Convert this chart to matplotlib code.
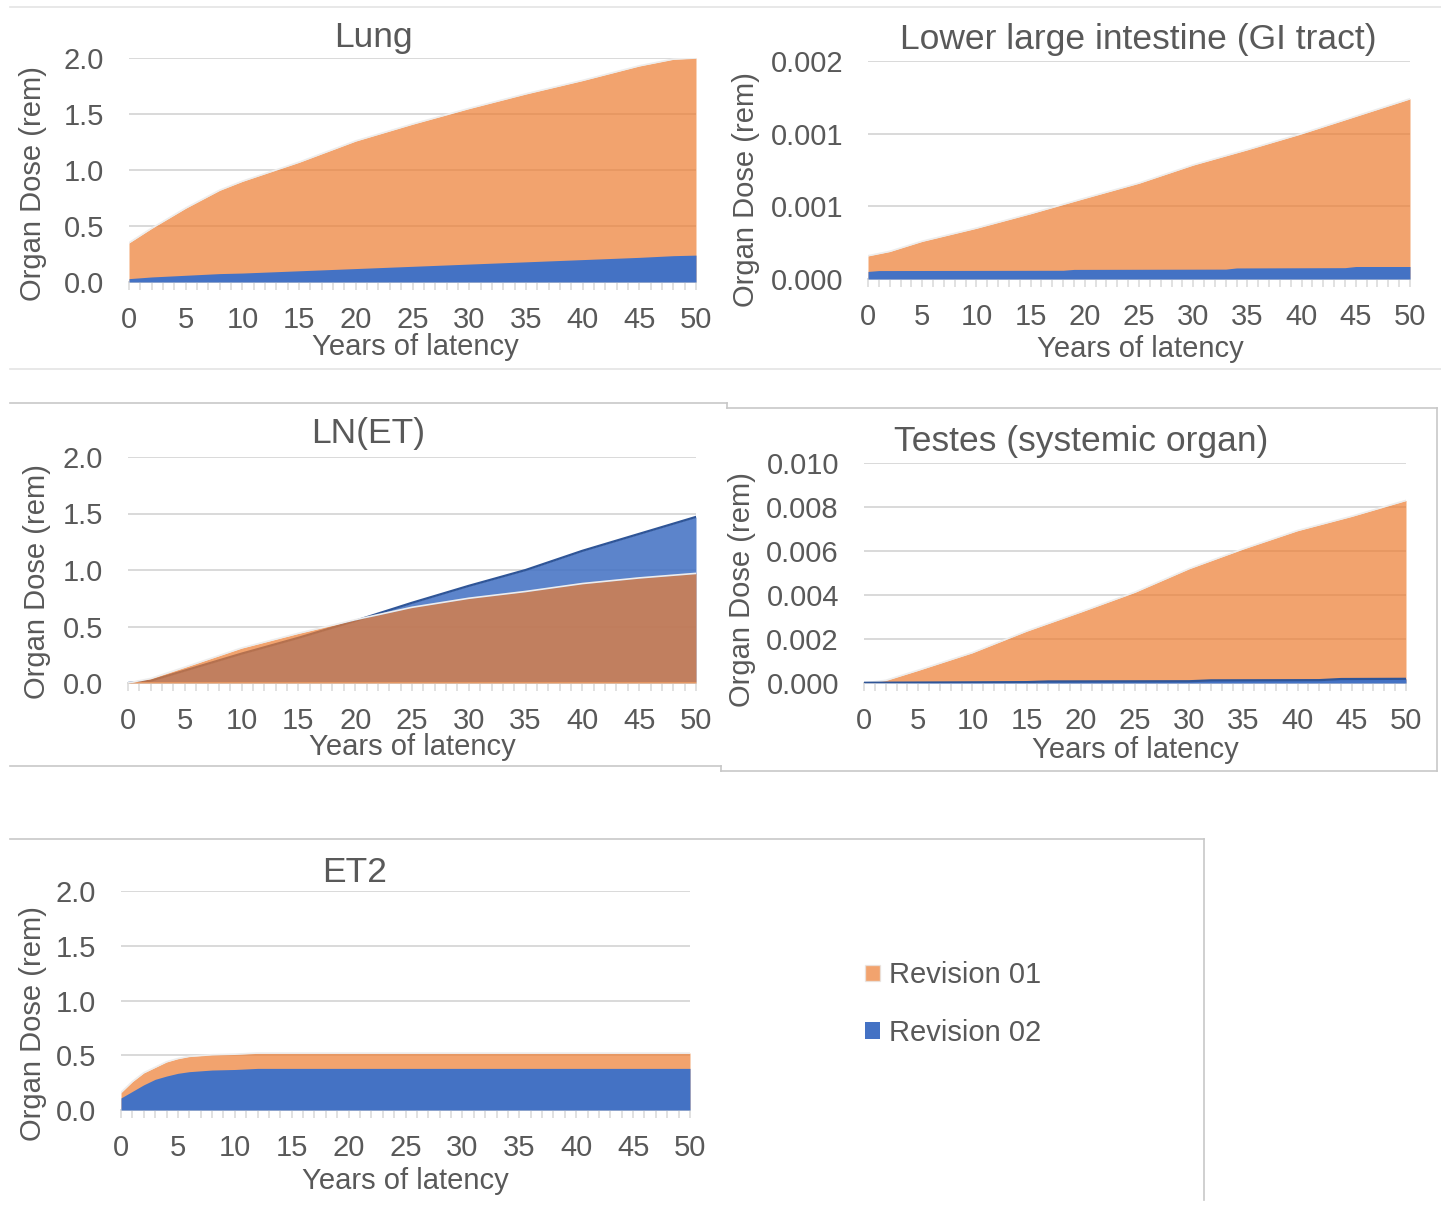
"""Organ dose vs. years of latency, Revision 01 vs Revision 02 (five area panels)."""

import matplotlib

matplotlib.use("Agg")
import matplotlib.pyplot as plt
from matplotlib.lines import Line2D
from matplotlib.patches import Patch
from matplotlib.ticker import FuncFormatter, MultipleLocator

plt.rcParams["font.family"] = ["Liberation Sans", "DejaVu Sans"]

W, H = 1441, 1214
TEXT = "#595959"
GRID = "#D9D9D9"
ORANGE = "#ED7D31"
BLUE = "#4472C4"
BLUE_EDGE = "#2F5597"

# --- data ---
lung_years = [0, 2, 5, 8, 10, 15, 20, 25, 30, 35, 40, 45, 48, 50]
lung_rev01 = [0.35, 0.48, 0.66, 0.82, 0.90, 1.07, 1.26, 1.41, 1.55, 1.68, 1.80, 1.93, 1.99, 2.0]
lung_rev02 = [0.03, 0.045, 0.06, 0.075, 0.08, 0.10, 0.12, 0.14, 0.16, 0.18, 0.20, 0.22, 0.235, 0.24]

lli_years = [0, 2, 5, 10, 15, 20, 25, 30, 35, 40, 45, 50]
lli_rev01 = [0.00016, 0.00019, 0.00026, 0.00035, 0.00045, 0.000556, 0.00066, 0.000785,
             0.00089, 0.00100, 0.00112, 0.00124]
lli_rev02_years = [0, 1, 18, 19, 33, 34, 44, 45, 50]
lli_rev02 = [0.000052, 0.000058, 0.000060, 0.000066, 0.000068, 0.000076, 0.000078, 0.000086, 0.000086]

lnet_years = [0, 2, 5, 10, 15, 20, 25, 30, 35, 40, 45, 50]
lnet_rev01 = [0.0, 0.04, 0.14, 0.31, 0.44, 0.56, 0.67, 0.75, 0.81, 0.88, 0.93, 0.97]
lnet_rev02 = [0.0, 0.02, 0.11, 0.26, 0.40, 0.55, 0.71, 0.86, 1.00, 1.17, 1.32, 1.47]

testes_years = [0, 2, 5, 10, 15, 20, 25, 30, 35, 40, 45, 50]
testes_rev01 = [0.0, 0.00012, 0.00058, 0.00138, 0.00236, 0.00323, 0.00413, 0.0052,
                0.0061, 0.00693, 0.00758, 0.0083]
testes_rev02_years = [0, 15, 17, 30, 32, 42, 44, 50]
testes_rev02 = [0.00001, 0.00004, 0.00007, 0.00008, 0.00012, 0.00013, 0.00018, 0.00019]

et2_years = [0, 1, 2, 3, 4, 5, 6, 8, 10, 12, 15, 20, 30, 40, 50]
et2_rev01 = [0.16, 0.26, 0.34, 0.39, 0.44, 0.47, 0.49, 0.505, 0.51, 0.52, 0.52, 0.52, 0.52, 0.52, 0.52]
et2_rev02 = [0.11, 0.17, 0.23, 0.28, 0.31, 0.335, 0.35, 0.365, 0.37, 0.38, 0.38, 0.38, 0.38, 0.38, 0.38]

series_labels = ["Revision 01", "Revision 02"]


def _px_axes(fig, left, top, right, bottom):
    return fig.add_axes([left / W, 1 - bottom / H, (right - left) / W, (bottom - top) / H])


def _px_text(fig, x, y, s, **kw):
    fig.text(x / W, 1 - y / H, s, color=TEXT, ha="center", va="center", **kw)


def _panel(fig, box, ymax, ystep, fmt, title, title_xy, xlab_xy, ylab_xy):
    ax = _px_axes(fig, *box)
    ax.set_xlim(0, 50)
    ax.set_ylim(0, ymax)
    ax.set_yticks([ystep * i for i in range(int(round(ymax / ystep)) + 1)])
    ax.yaxis.set_major_formatter(FuncFormatter(lambda v, _p: fmt.format(v)))
    ax.set_xticks(range(0, 51, 5))
    ax.xaxis.set_minor_locator(MultipleLocator(1))
    ax.grid(True, axis="y", color=GRID, lw=1.4, zorder=0)
    ax.set_axisbelow(True)
    for s in ("top", "right", "left"):
        ax.spines[s].set_visible(False)
    ax.spines["bottom"].set_color(GRID)
    ax.spines["bottom"].set_linewidth(1.4)
    ax.tick_params(axis="x", which="both", direction="out", length=6, width=1.1,
                   color=GRID, labelsize=21, labelcolor=TEXT, pad=11)
    ax.tick_params(axis="y", length=0, labelsize=21, labelcolor=TEXT, pad=18)
    _px_text(fig, *title_xy, title, fontsize=25.5)
    _px_text(fig, *xlab_xy, "Years of latency", fontsize=21)
    _px_text(fig, *ylab_xy, "Organ Dose (rem)", fontsize=21, rotation=90)
    return ax


def _orange(ax, x, y, z=2):
    ax.fill_between(x, 0, y, color=ORANGE, alpha=0.7, lw=0, zorder=z)
    ax.plot(x, y, color="#EDEDED", lw=1.2, zorder=z + 0.1)


def _blue(ax, x, y, z=3, alpha=1.0, edge=False):
    ax.fill_between(x, 0, y, color=BLUE, alpha=alpha, lw=0, zorder=z)
    if edge:
        ax.plot(x, y, color=BLUE_EDGE, lw=1.6, zorder=z + 0.1)


fig = plt.figure(figsize=(W / 100, H / 100), dpi=100)

ax = _panel(fig, (129, 58, 696, 282), 2.0, 0.5, "{:.1f}", "Lung", (373, 38), (415, 347), (33, 184))
_orange(ax, lung_years, lung_rev01)
_blue(ax, lung_years, lung_rev02)

ax = _panel(fig, (868, 61, 1410, 279), 0.0015, 0.0005, "{:.3f}", "Lower large intestine (GI tract)",
            (1138, 39), (1140, 349), (746, 190))
_orange(ax, lli_years, lli_rev01)
_blue(ax, lli_rev02_years, lli_rev02)

ax = _panel(fig, (128, 457, 696, 683), 2.0, 0.5, "{:.1f}", "LN(ET)", (368, 433), (412, 747), (37, 582))
_blue(ax, lnet_years, lnet_rev02, z=2, alpha=0.87, edge=True)
_orange(ax, lnet_years, lnet_rev01, z=3)

ax = _panel(fig, (864, 463, 1406, 683), 0.010, 0.002, "{:.3f}", "Testes (systemic organ)",
            (1081, 441), (1135, 750), (742, 590))
_orange(ax, testes_years, testes_rev01)
_blue(ax, testes_rev02_years, testes_rev02, edge=True)

ax = _panel(fig, (121, 891, 690, 1110), 2.0, 0.5, "{:.1f}", "ET2", (355, 872), (405, 1181), (33, 1024))
_orange(ax, et2_years, et2_rev01)
_blue(ax, et2_years, et2_rev02)

# legend shared by all panels
handles = [Patch(facecolor=ORANGE, alpha=0.7, edgecolor="#E6E6E6"), Patch(facecolor=BLUE)]
fig.legend(handles, series_labels, loc="center left", bbox_to_anchor=(839 / W, 1 - 1004 / H),
           frameon=False, fontsize=21, labelcolor=TEXT, handlelength=0.5, handleheight=0.5,
           handletextpad=0.3, labelspacing=1.0)

# thin frames left over from the individual chart boxes
frames = [
    ((10, 7), (1441, 7), "#E4E4E4"),
    ((10, 369), (1441, 369), "#E4E4E4"),
    ((10, 403), (727, 403), "#C8C8C8"),
    ((727, 403), (727, 408), "#C8C8C8"),
    ((727, 408), (1437, 408), "#C8C8C8"),
    ((1437, 408), (1437, 771), "#C8C8C8"),
    ((10, 766), (721, 766), "#C8C8C8"),
    ((721, 766), (721, 771), "#C8C8C8"),
    ((721, 771), (1437, 771), "#C8C8C8"),
    ((10, 839), (1204, 839), "#C8C8C8"),
    ((1204, 839), (1204, 1200), "#C8C8C8"),
]
for (x1, y1), (x2, y2), c in frames:
    fig.add_artist(Line2D([x1 / W, x2 / W], [1 - y1 / H, 1 - y2 / H], transform=fig.transFigure,
                          color=c, lw=1.2))

fig.savefig("out.png", dpi=100, facecolor="white")
plt.close(fig)
